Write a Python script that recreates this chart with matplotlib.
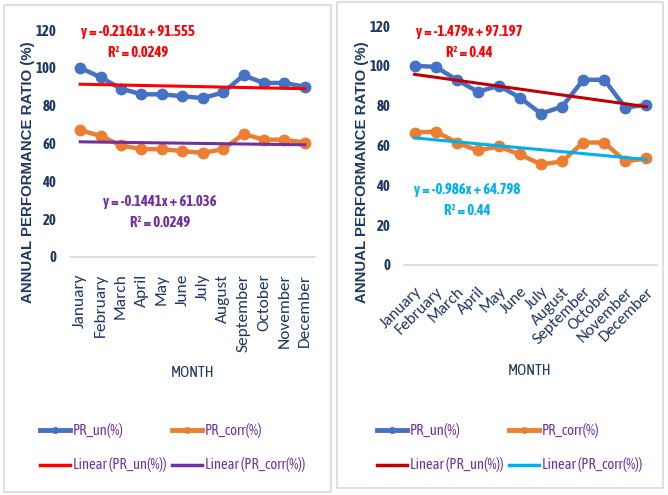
import matplotlib
matplotlib.use("Agg")
import matplotlib.pyplot as plt
from matplotlib.lines import Line2D
from matplotlib.patches import Rectangle
from matplotlib import font_manager as fm
import numpy as np

months = ["January", "February", "March", "April", "May", "June", "July",
          "August", "September", "October", "November", "December"]

# Left chart
left_pr_un = [100, 95, 89, 86, 86, 85, 84, 87, 96, 92, 92, 90]
left_pr_corr = [67, 64, 59, 57, 57, 56, 55, 57, 65, 62, 62, 60.5]
left_fit_un = [-0.2161, 91.555]
left_fit_corr = [-0.1441, 61.036]
left_eq_un = ["y = -0.2161x + 91.555", "R² = 0.0249"]
left_eq_corr = ["y = -0.1441x + 61.036", "R² = 0.0249"]

# Right chart
right_pr_un = [100, 99.5, 93, 87, 90, 84, 76, 79.5, 93, 93, 79, 80.5]
right_pr_corr = [66.5, 67, 61.5, 57.5, 59.5, 55.5, 50.5, 52, 61.5, 61.5, 52, 53.5]
right_fit_un = [-1.479, 97.197]
right_fit_corr = [-0.986, 64.798]
right_eq_un = ["y = -1.479x + 97.197", "R² = 0.44"]
right_eq_corr = ["y = -0.986x + 64.798", "R² = 0.44"]

yticks = [0, 20, 40, 60, 80, 100, 120]
legend_labels = ["PR_un(%)", "PR_corr(%)", "Linear (PR_un(%))", "Linear (PR_corr(%))"]

W, H = 668, 495
available = set(f.name for f in fm.fontManager.ttflist)
FONT = "DejaVu Sans"
for cand in ["Asap Condensed", "Archivo Narrow", "Barlow Condensed", "Liberation Sans"]:
    if cand in available:
        FONT = cand
        break
if "Carlito" in available:
    VFONT, MONTH_FS, MONTH45_FS = "Carlito", 12.5, 12
else:
    VFONT, MONTH_FS, MONTH45_FS = "Liberation Sans", 11.5, 11
YFONT = "Liberation Sans" if "Liberation Sans" in available else "DejaVu Sans"
plt.rcParams["font.family"] = [FONT, "DejaVu Sans"]

NAVY = "#1F3864"
PURPLE = "#7030A0"
BLUE = "#4472C4"
ORANGE = "#ED7D31"

fig = plt.figure(figsize=(W / 100, H / 100), dpi=100)


def fx(px):
    return px / W


def fy(py):
    return 1 - py / H


def panel(box, ax_rect, un, corr, fit_un, fit_corr, col_fit_un, col_fit_corr,
          eq_un, eq_corr, eq_un_col, eq_corr_col, eq_un_pos, eq_corr_pos,
          rot, ylab_x, month_pos, leg_x):
    x0, y0, x1, y1 = box
    fig.patches.append(Rectangle((fx(x0), fy(y1)), fx(x1 - x0), (y1 - y0) / H,
                                 transform=fig.transFigure, fill=False,
                                 edgecolor="#D9D9D9", linewidth=1.2))
    l, t, r, b = ax_rect
    ax = fig.add_axes([fx(l), fy(b), fx(r - l), (b - t) / H])
    x = np.arange(len(months))
    xx = np.array([1, 12])
    ax.plot(x, un, color=BLUE, lw=3.2, marker="o", ms=7.5, zorder=3)
    ax.plot(x, corr, color=ORANGE, lw=3.2, marker="o", ms=7.5, zorder=3)
    ax.plot(xx - 1, fit_un[0] * xx + fit_un[1], color=col_fit_un, lw=2.2, zorder=4)
    ax.plot(xx - 1, fit_corr[0] * xx + fit_corr[1], color=col_fit_corr, lw=2.2, zorder=4)
    ax.set_xlim(-0.5, 11.5)
    ax.set_ylim(0, 120)
    ax.set_yticks(yticks)
    ax.set_yticklabels([str(v) for v in yticks], fontsize=10.5,
                       fontweight="bold", color=NAVY)
    ax.set_xticks(x)
    if rot == 90:
        ax.set_xticklabels(months, rotation=90, fontsize=MONTH_FS, color=NAVY,
                           va="top", ha="center", family=[VFONT, "DejaVu Sans"])
        ax.tick_params(axis="x", pad=12)
    else:
        ax.set_xticklabels(months, rotation=45, fontsize=MONTH45_FS, color=NAVY,
                           va="top", ha="right", rotation_mode="anchor",
                           family=[VFONT, "DejaVu Sans"])
        ax.tick_params(axis="x", pad=14)
    ax.tick_params(length=0)
    ax.tick_params(axis="y", pad=10)
    for s in ["top", "right", "left"]:
        ax.spines[s].set_visible(False)
    ax.spines["bottom"].set_color("#D9D9D9")
    ax.spines["bottom"].set_linewidth(1.2)
    ax.set_facecolor("none")

    fig.text(fx(ylab_x), fy(172), "ANNUAL PERFORMANCE RATIO (%)", rotation=90,
             ha="center", va="center", fontsize=10.8, fontweight="bold",
             color=NAVY, family=[YFONT, "DejaVu Sans"])
    fig.text(fx(month_pos[0]), fy(month_pos[1]), "MONTH", ha="center",
             va="center", fontsize=11, color=NAVY)

    for (px, py), lines, col in [(eq_un_pos, eq_un, eq_un_col),
                                 (eq_corr_pos, eq_corr, eq_corr_col)]:
        fig.text(fx(px), fy(py), lines[0], ha="center", va="center",
                 fontsize=10.5, fontweight="bold", color=col)
        fig.text(fx(px), fy(py + 21), lines[1], ha="center", va="center",
                 fontsize=10.5, fontweight="bold", color=col)

    styles = [(BLUE, 3.5, True), (ORANGE, 3.5, True),
              (col_fit_un, 2.5, False), (col_fit_corr, 2.5, False)]
    rows = [430, 430, 465, 465]
    cols = [leg_x[0], leg_x[1], leg_x[0], leg_x[1]]
    for (c, lw, mk), lab, ry, cx in zip(styles, legend_labels, rows, cols):
        fig.add_artist(Line2D([fx(cx), fx(cx + 30)], [fy(ry), fy(ry)], color=c,
                              lw=lw, transform=fig.transFigure))
        if mk:
            fig.add_artist(Line2D([fx(cx + 15)], [fy(ry)], color=c, marker="o",
                                  ms=4, transform=fig.transFigure))
        fig.text(fx(cx + 33), fy(ry), lab, ha="left", va="center",
                 fontsize=10.5, color=PURPLE)
    return ax


panel(box=(4, 5, 331, 492), ax_rect=(70, 30, 315, 257),
      un=left_pr_un, corr=left_pr_corr, fit_un=left_fit_un, fit_corr=left_fit_corr,
      col_fit_un="#FF0000", col_fit_corr="#7030A0",
      eq_un=left_eq_un, eq_corr=left_eq_corr,
      eq_un_col="#FF0000", eq_corr_col="#7030A0",
      eq_un_pos=(138, 32), eq_corr_pos=(160, 202),
      rot=90, ylab_x=28, month_pos=(193, 373), leg_x=(40, 172))

panel(box=(337, 2, 663, 488), ax_rect=(404, 26, 657, 265),
      un=right_pr_un, corr=right_pr_corr, fit_un=right_fit_un, fit_corr=right_fit_corr,
      col_fit_un="#C00000", col_fit_corr="#00B0F0",
      eq_un=right_eq_un, eq_corr=right_eq_corr,
      eq_un_col="#FF0000", eq_corr_col="#00B0F0",
      eq_un_pos=(469, 32), eq_corr_pos=(467, 190),
      rot=45, ylab_x=362, month_pos=(530, 371), leg_x=(377, 509))

fig.savefig("out.png", dpi=100)
